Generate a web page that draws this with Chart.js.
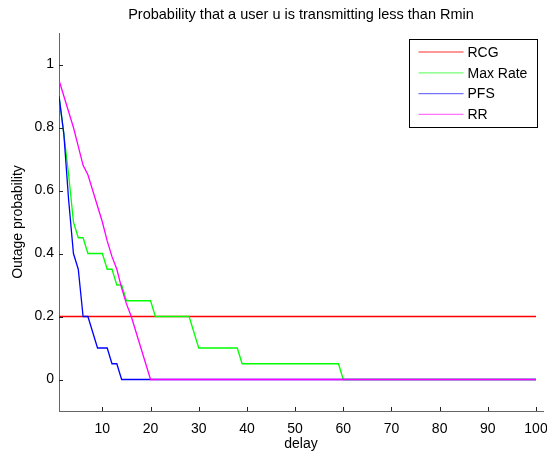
<!DOCTYPE html>
<html><head><meta charset="utf-8">
<script src="https://cdn.jsdelivr.net/npm/chart.js@4/dist/chart.umd.min.js"></script>
<style>html,body{margin:0;padding:0;background:#fff}canvas{display:block}</style>
</head><body>
<canvas id="c" width="547" height="453"></canvas>
<script>
const titleText = 'Probability that a user u is transmitting less than Rmin';
const xLabel = 'delay';
const yLabel = 'Outage probability';
const seriesNames = ['RCG', 'Max Rate', 'PFS', 'RR'];
const seriesColors = ['#ff0000', '#00ff00', '#0000ff', '#ff00ff'];
const legendColors = ['rgba(255,0,0,0.55)', 'rgba(0,255,0,0.55)', 'rgba(0,0,255,0.55)', 'rgba(255,0,255,0.55)'];

// breakpoints of each polyline (delay, probability)
const rcgX = [1, 100];
const rcgY = [0.2, 0.2];
const maxRateX = [1, 2, 3, 4, 5, 6, 7, 10, 11, 12, 13, 14, 15, 20, 21, 28, 30, 38, 39, 59, 60, 100];
const maxRateY = [0.9, 0.78, 0.65, 0.5, 0.45, 0.45, 0.4, 0.4, 0.35, 0.35, 0.3, 0.3, 0.25, 0.25, 0.2, 0.2, 0.1, 0.1, 0.05, 0.05, 0, 0];
const pfsX = [1, 2, 3, 4, 5, 6, 7, 9, 11, 12, 13, 14, 100];
const pfsY = [0.9, 0.78, 0.57, 0.4, 0.35, 0.2, 0.2, 0.1, 0.1, 0.05, 0.05, 0, 0];
const rrX = [1, 2, 3, 4, 5, 6, 7, 8, 9, 10, 11, 12, 13, 14, 15, 16, 20, 100];
const rrY = [0.95, 0.9, 0.85, 0.8, 0.74, 0.68, 0.65, 0.6, 0.55, 0.5, 0.44, 0.39, 0.35, 0.29, 0.24, 0.2, 0, 0];

const xTicks = [10, 20, 30, 40, 50, 60, 70, 80, 90, 100];
const yTicks = [0, 0.2, 0.4, 0.6, 0.8, 1];
const xMin = 1, xMax = 101.45, yMin = -0.1, yMax = 1.1;

const seriesX = [rcgX, maxRateX, pfsX, rrX];
const seriesY = [rcgY, maxRateY, pfsY, rrY];

const FONT = '"Liberation Sans", Arial, sans-serif';
Chart.defaults.font.family = FONT;
Chart.defaults.font.size = 14;
Chart.defaults.color = '#000';
const axisColor = '#666';

const tickMarks = {
  id: 'tickMarks',
  afterDatasetsDraw(chart) {
    const ctx = chart.ctx, a = chart.chartArea;
    const xs = chart.scales.x, ys = chart.scales.y;
    ctx.save();
    ctx.strokeStyle = '#222';
    ctx.lineWidth = 1;
    ctx.beginPath();
    xTicks.forEach(v => {
      const p = Math.round(xs.getPixelForValue(v)) + 0.5;
      ctx.moveTo(p, a.bottom); ctx.lineTo(p, a.bottom - 4);
    });
    yTicks.forEach(v => {
      const p = Math.round(ys.getPixelForValue(v)) + 0.5;
      ctx.moveTo(a.left, p); ctx.lineTo(a.left + 4, p);
    });
    ctx.stroke();
    ctx.restore();
  }
};

const boxLegend = {
  id: 'boxLegend',
  afterDraw(chart) {
    const ctx = chart.ctx, a = chart.chartArea;
    const w = 128, h = 88;
    const x0 = Math.round(a.right - 6 - w) + 0.5, y0 = Math.round(a.top + 6) + 0.5;
    ctx.save();
    ctx.fillStyle = '#fff';
    ctx.fillRect(x0, y0, w, h);
    ctx.strokeStyle = '#000';
    ctx.lineWidth = 1;
    ctx.strokeRect(x0, y0, w, h);
    ctx.font = '14px ' + FONT;
    ctx.textBaseline = 'middle';
    ctx.textAlign = 'left';
    seriesNames.forEach((name, i) => {
      const yy = y0 + 12.5 + i * 20.8;
      ctx.strokeStyle = legendColors[i];
      ctx.lineWidth = 1.3;
      ctx.beginPath();
      ctx.moveTo(x0 + 9, yy);
      ctx.lineTo(x0 + 54, yy);
      ctx.stroke();
      ctx.fillStyle = '#000';
      ctx.fillText(name, x0 + 58, yy + 1);
    });
    ctx.restore();
  }
};

const datasets = seriesNames.map((name, i) => ({
  label: name,
  data: seriesX[i].map((x, j) => ({ x: x, y: seriesY[i][j] })),
  borderColor: seriesColors[i],
  backgroundColor: seriesColors[i],
  borderWidth: 1.3,
  pointRadius: 0,
  tension: 0,
  fill: false,
  order: seriesNames.length - 1 - i
}));

new Chart(document.getElementById('c'), {
  type: 'line',
  data: { datasets: datasets },
  options: {
    responsive: false,
    animation: false,
    layout: { padding: { left: 0, right: 4, top: 0, bottom: 0 } },
    plugins: {
      legend: { display: false },
      tooltip: { enabled: false },
      title: {
        display: true, text: titleText, color: '#000', fullSize: false,
        font: { size: 14.5, weight: 'normal', lineHeight: 1.2 },
        padding: { top: 6.6, bottom: 9 }
      }
    },
    scales: {
      x: {
        type: 'linear', min: xMin, max: xMax,
        afterBuildTicks: s => { s.ticks = xTicks.map(v => ({ value: v })); },
        afterFit: s => { s.height = 42; s.paddingRight = 0; s.paddingLeft = 0; },
        grid: { display: false, drawTicks: false },
        border: { display: true, color: axisColor, width: 1 },
        ticks: { padding: 10, color: '#000', autoSkip: false, maxRotation: 0, callback: v => String(v) },
        title: { display: true, text: xLabel, color: '#000', font: { size: 14 }, padding: { top: 0, bottom: 0.5 } }
      },
      y: {
        type: 'linear', min: yMin, max: yMax,
        afterBuildTicks: s => { s.ticks = yTicks.map(v => ({ value: v })); },
        afterFit: s => { s.width = 59; s.paddingTop = 0; s.paddingBottom = 0; },
        grid: { display: false, drawTicks: false },
        border: { display: true, color: axisColor, width: 1 },
        ticks: { padding: 5, color: '#000', autoSkip: false, callback: v => String(v) },
        title: { display: true, text: yLabel, color: '#000', font: { size: 14 }, padding: { top: 10, bottom: 0 } }
      }
    }
  },
  plugins: [tickMarks, boxLegend]
});
</script>
</body></html>
